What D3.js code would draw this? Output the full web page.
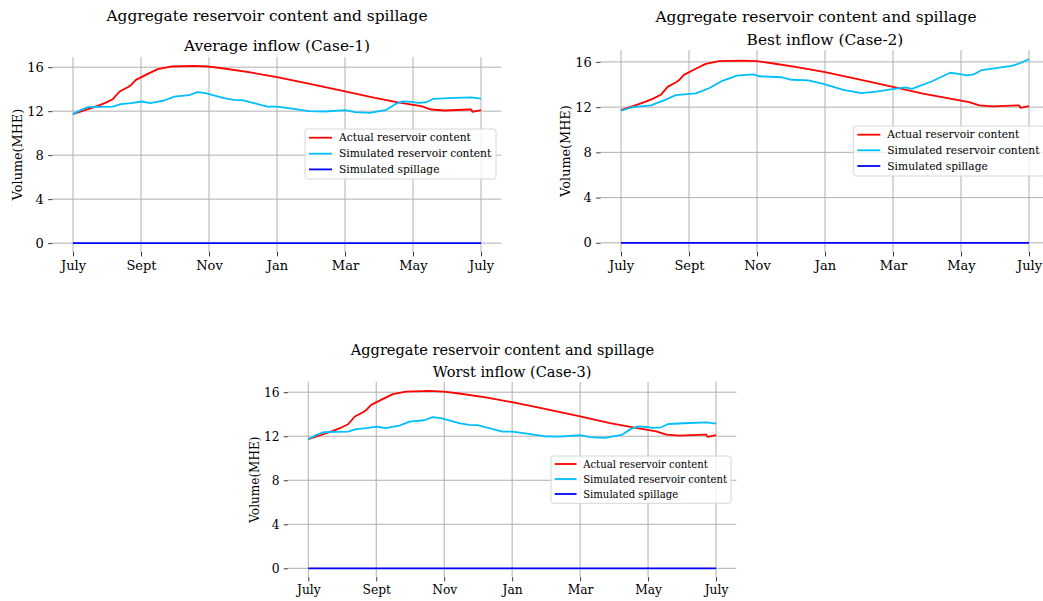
<!DOCTYPE html>
<html>
<head>
<meta charset="utf-8">
<script src="https://cdn.jsdelivr.net/npm/d3@7"></script>
<style>
  html, body { margin: 0; padding: 0; background: #fff; }
  svg { display: block; font-family: "DejaVu Serif", serif; }
</style>
</head>
<body>
<svg id="chart" width="1043" height="601"></svg>
<script>
// ---------- data ----------
const tickMonths = [0, 2, 4, 6, 8, 10, 12];
const tickLabels = ["July", "Sept", "Nov", "Jan", "Mar", "May", "July"];
const yTicks = [0, 4, 8, 12, 16];

const suptitle = "Aggregate reservoir content and spillage";
const caseTitles = ["Average inflow (Case-1)", "Best inflow (Case-2)", "Worst inflow (Case-3)"];
const seriesNames = ["Actual reservoir content", "Simulated reservoir content", "Simulated spillage"];

// [month since July, volume MHE]
const actualContent = [
  [0, 11.73], [0.44, 12.18], [0.73, 12.48], [0.93, 12.73], [1.17, 13.09], [1.37, 13.79],
  [1.61, 14.18], [1.71, 14.39], [1.85, 14.85], [2.2, 15.39], [2.49, 15.82], [2.88, 16.06],
  [3.56, 16.12], [3.99, 16.06], [4.44, 15.88], [5.22, 15.52], [6.0, 15.09], [6.93, 14.5],
  [8.0, 13.8], [8.88, 13.2], [9.56, 12.81], [10.24, 12.45], [10.54, 12.15], [10.93, 12.06],
  [11.66, 12.15], [11.71, 12.15], [11.75, 11.94], [12, 12.09]
];

const simAverage = [
  [0, 11.73], [0.24, 12.12], [0.44, 12.36], [0.83, 12.39], [1.17, 12.42], [1.41, 12.64],
  [1.71, 12.73], [2.02, 12.88], [2.27, 12.73], [2.68, 12.97], [2.98, 13.33], [3.41, 13.45],
  [3.66, 13.73], [3.9, 13.64], [4.44, 13.18], [4.73, 13.03], [4.98, 13.0], [5.32, 12.73],
  [5.71, 12.42], [6.0, 12.42], [6.44, 12.24], [6.93, 12.0], [7.41, 11.97], [7.7, 12.03],
  [8.0, 12.09], [8.29, 11.91], [8.73, 11.85], [9.22, 12.12], [9.51, 12.69], [9.71, 12.9],
  [9.95, 12.84], [10.15, 12.75], [10.39, 12.81], [10.59, 13.11], [11.22, 13.2], [11.71, 13.26],
  [12, 13.14]
];

const simBest = [
  [0, 11.68], [0.34, 12.0], [0.88, 12.15], [1.32, 12.67], [1.61, 13.06], [2.2, 13.21],
  [2.59, 13.67], [2.98, 14.33], [3.41, 14.79], [3.9, 14.9], [4.05, 14.73], [4.73, 14.64],
  [5.02, 14.42], [5.51, 14.36], [5.95, 14.05], [6.54, 13.53], [7.07, 13.23], [7.51, 13.38],
  [8.03, 13.62], [8.37, 13.74], [8.56, 13.62], [9.15, 14.29], [9.68, 15.04], [9.93, 14.95],
  [10.17, 14.8], [10.37, 14.89], [10.61, 15.28], [11.49, 15.64], [11.73, 15.88], [12, 16.24]
];

const simWorst = [
  [0, 11.73], [0.24, 12.12], [0.44, 12.36], [0.83, 12.39], [1.17, 12.42], [1.41, 12.64],
  [1.71, 12.73], [2.02, 12.88], [2.27, 12.73], [2.68, 12.97], [2.98, 13.33], [3.41, 13.45],
  [3.66, 13.73], [3.9, 13.64], [4.44, 13.18], [4.73, 13.03], [4.98, 13.0], [5.32, 12.73],
  [5.71, 12.42], [6.0, 12.42], [6.44, 12.24], [6.93, 12.0], [7.41, 11.97], [7.7, 12.03],
  [8.0, 12.09], [8.29, 11.91], [8.73, 11.85], [9.22, 12.12], [9.51, 12.69], [9.71, 12.9],
  [9.95, 12.84], [10.15, 12.75], [10.39, 12.81], [10.59, 13.11], [11.22, 13.2], [11.71, 13.26],
  [12, 13.14]
];

const spillageMonths = [0, 1, 2, 3, 4, 5, 6, 7, 8, 9, 10, 11, 12];
const spillage = [0, 0, 0, 0, 0, 0, 0, 0, 0, 0, 0, 0, 0];

// ---------- layout ----------
const colors = ["#ff0000", "#00bfff", "#0000ff"];
const panels = [
  { sim: simAverage, title: caseTitles[0], left: 52.6, right: 501.4, top: 57, bottom: 252,
    fs: 1.0, supX: 267, supY: 20.5, titleY: 50.7, ylabX: 18,
    leg: { x: 305, y: 129, w: 191, h: 50, rowY: [137.7, 153.7, 169.4] } },
  { sim: simBest, title: caseTitles[1], left: 600.6, right: 1049.4, top: 50, bottom: 252,
    fs: 1.0, supX: 816, supY: 21.7, titleY: 45, ylabX: 566,
    leg: { x: 853.3, y: 126, w: 191, h: 50, rowY: [134.7, 150.3, 166] } },
  { sim: simWorst, title: caseTitles[2], left: 287.9, right: 736.4, top: 382, bottom: 577.2,
    fs: 0.945, supX: 502.5, supY: 355, titleY: 376.7, ylabX: 255,
    leg: { x: 551, y: 456, w: 180, h: 47.3, rowY: [464, 479, 494] } }
];

const svg = d3.select("#chart");
const ink = "#000";

panels.forEach(p => {
  const g = svg.append("g");
  const spill = spillageMonths.map((m, i) => [m, spillage[i]]);
  const all = [...actualContent, ...p.sim, ...spill];

  const xExt = d3.extent(all, d => d[0]);
  const yExt = d3.extent(all, d => d[1]);
  const xPad = (xExt[1] - xExt[0]) * 0.05;
  const yPad = (yExt[1] - yExt[0]) * 0.05;

  const x = d3.scaleLinear().domain([xExt[0] - xPad, xExt[1] + xPad]).range([p.left, p.right]);
  const y = d3.scaleLinear().domain([yExt[0] - yPad, yExt[1] + yPad]).range([p.bottom, p.top]);

  const tickFs = 13 * p.fs;
  const tickLen = 4.4 * p.fs;

  // grid
  g.append("g").selectAll("line").data(yTicks).join("line")
    .attr("x1", p.left).attr("x2", p.right)
    .attr("y1", d => y(d)).attr("y2", d => y(d))
    .attr("stroke", "#b0b0b0").attr("stroke-width", 1);
  g.append("g").selectAll("line").data(tickMonths).join("line")
    .attr("x1", d => x(d)).attr("x2", d => x(d))
    .attr("y1", p.top).attr("y2", p.bottom)
    .attr("stroke", "#b0b0b0").attr("stroke-width", 1);

  // axes
  const xAxis = g.append("g").attr("transform", `translate(0,${p.bottom})`)
    .call(d3.axisBottom(x).tickValues(tickMonths).tickFormat((d, i) => tickLabels[i])
      .tickSize(tickLen).tickPadding(4.2 * p.fs));
  const yAxis = g.append("g").attr("transform", `translate(${p.left},0)`)
    .call(d3.axisLeft(y).tickValues(yTicks).tickFormat(d3.format("d"))
      .tickSize(tickLen).tickPadding(4.4 * p.fs));
  [xAxis, yAxis].forEach(a => {
    a.select(".domain").remove();
    a.selectAll(".tick line").attr("stroke", "#222").attr("stroke-width", 0.9);
    a.selectAll(".tick text").attr("fill", ink)
      .style("font-family", "'DejaVu Serif', serif").style("font-size", tickFs + "px");
  });

  // y label
  g.append("text")
    .attr("transform", `translate(${p.ylabX},${(p.top + p.bottom) / 2}) rotate(-90)`)
    .attr("text-anchor", "middle").attr("dy", "0.35em")
    .style("font-size", (12.8 * p.fs) + "px").attr("fill", ink)
    .text("Volume(MHE)");

  // titles
  g.append("text").attr("x", p.supX).attr("y", p.supY)
    .attr("text-anchor", "middle").style("font-size", (15.4 * p.fs) + "px").attr("fill", ink)
    .text(suptitle);
  g.append("text").attr("x", (p.left + p.right) / 2).attr("y", p.titleY)
    .attr("text-anchor", "middle").style("font-size", (15.4 * p.fs) + "px").attr("fill", ink)
    .text(p.title);

  // lines
  const line = d3.line().x(d => x(d[0])).y(d => y(d[1]));
  const seriesData = [actualContent, p.sim, spill];
  seriesData.forEach((s, i) => {
    g.append("path").datum(s).attr("d", line)
      .attr("fill", "none").attr("stroke", colors[i]).attr("stroke-width", 1.8)
      .attr("stroke-linejoin", "round");
  });

  // legend
  const L = p.leg;
  const lg = g.append("g");
  lg.append("rect").attr("x", L.x).attr("y", L.y).attr("width", L.w).attr("height", L.h)
    .attr("rx", 2.5).attr("fill", "#fff").attr("fill-opacity", 0.8)
    .attr("stroke", "#d6d6d6").attr("stroke-width", 1);
  seriesNames.forEach((name, i) => {
    const hx = L.x + 4 * p.fs;
    lg.append("line").attr("x1", hx).attr("x2", hx + 23 * p.fs)
      .attr("y1", L.rowY[i]).attr("y2", L.rowY[i])
      .attr("stroke", colors[i]).attr("stroke-width", 1.8);
    lg.append("text").attr("x", hx + 30 * p.fs).attr("y", L.rowY[i]).attr("dy", "0.35em")
      .style("font-size", (10.7 * p.fs) + "px").attr("fill", ink)
      .text(name);
  });
});
</script>
</body>
</html>
